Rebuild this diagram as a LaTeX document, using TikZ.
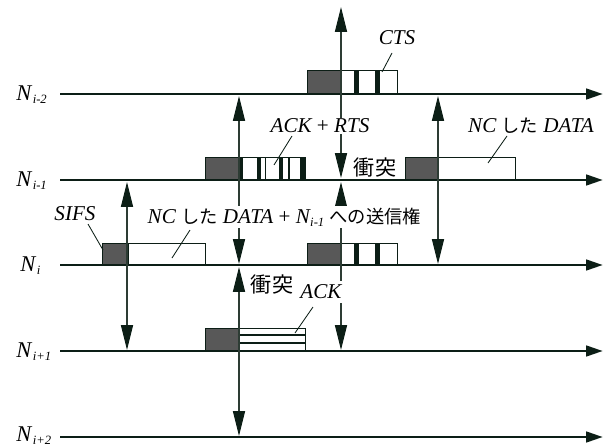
\documentclass[tikz,border=0pt]{standalone}
\usepackage{fontspec}
\setmainfont{Liberation Serif}
\newfontfamily\jp{Noto Sans CJK JP}
\usetikzlibrary{arrows.meta}
\definecolor{ink}{RGB}{12,30,22}
\definecolor{shaft}{RGB}{45,60,52}
\definecolor{blk}{RGB}{88,88,88}
\newcommand{\J}[1]{{\jp\upshape\fontsize{13}{15}\selectfont #1}}
\newcommand{\Nl}[2]{\textit{N}\kern0.3pt\raisebox{-0.3ex}{\fontsize{#2}{#2}\selectfont\textit{#1}}}
\begin{document}
\begin{tikzpicture}[x=0.025cm,y=-0.025cm,
  timeline/.style={line width=2.1pt, draw=ink, -{Triangle[length=0.42cm,width=0.26cm]}},
  rangearrow/.style={line width=0.75pt, draw=shaft, {Triangle[length=0.62cm,width=0.3cm,color=ink]}-{Triangle[length=0.62cm,width=0.3cm,color=ink]}},
  darkblk/.style={draw=ink, fill=blk, line width=0.6pt},
  whiteblk/.style={draw=ink, fill=white, line width=0.6pt},
  barblk/.style={fill=ink, draw=none},
  lbl/.style={font=\fontsize{15}{17}\selectfont\itshape, fill=white, inner sep=1pt},
  jlbl/.style={font=\fontsize{15}{17}\selectfont\jp, inner sep=1pt},
  nlbl/.style={font=\fontsize{16}{18}\selectfont, anchor=base west, inner sep=0pt},
  lead/.style={draw=ink, line width=0.6pt}]
\useasboundingbox (0,0) rectangle (607,447);

% timeline coordinates
\coordinate (s1) at (60,94);  \coordinate (e1) at (603,94);
\coordinate (s2) at (60,180); \coordinate (e2) at (603,180);
\coordinate (s3) at (60,265); \coordinate (e3) at (603,265);
\coordinate (s4) at (60,351); \coordinate (e4) at (603,351);
\coordinate (s5) at (60,437); \coordinate (e5) at (603,437);

% blocks on N_{i-2}
\draw[darkblk] (307,70) rectangle (341,94);
\draw[whiteblk] (341,70) rectangle (397,94);
\fill[barblk] (354,70) rectangle (359,94);
\fill[barblk] (375,70) rectangle (380,94);

% blocks on N_{i-1}
\draw[darkblk] (205,157) rectangle (239,180);
\draw[whiteblk] (239,157) rectangle (305,180);
\fill[barblk] (239,157) rectangle (243,180);
\fill[barblk] (257,157) rectangle (261,180);
\draw[ink, line width=0.5pt] (265,157) -- (265,180);
\fill[barblk] (279,157) rectangle (283,180);
\fill[barblk] (288,157) rectangle (290,180);
\fill[barblk] (300,157) rectangle (305,180);
\draw[darkblk] (405,157) rectangle (438,180);
\draw[whiteblk] (438,157) rectangle (515,180);

% blocks on N_i
\draw[darkblk] (102,243) rectangle (128,265);
\draw[whiteblk] (128,243) rectangle (205,265);
\draw[darkblk] (307,243) rectangle (340,265);
\draw[whiteblk] (340,243) rectangle (397,265);
\fill[barblk] (354,243) rectangle (359,265);
\fill[barblk] (375,243) rectangle (380,265);

% block on N_{i+1}
\draw[darkblk] (205,328) rectangle (239,351);
\draw[whiteblk] (239,328) rectangle (305,351);
\draw[ink, line width=1.4pt] (239,335) -- (305,335);
\draw[ink, line width=1.4pt] (239,343) -- (305,343);

% timelines
\foreach \i in {1,...,5} { \draw[timeline] (s\i) -- (e\i); }

% range arrows
\coordinate (a1t) at (341,7);   \coordinate (a1b) at (341,178);
\coordinate (a2t) at (341,182); \coordinate (a2b) at (341,350);
\coordinate (a3t) at (239,96);  \coordinate (a3b) at (239,264);
\coordinate (a4t) at (239,267); \coordinate (a4b) at (239,436);
\coordinate (a5t) at (438,96);  \coordinate (a5b) at (438,264);
\coordinate (a6t) at (127,182); \coordinate (a6b) at (127,350);
\foreach \k in {1,...,6} { \draw[rangearrow] (a\k t) -- (a\k b); }

% timeline labels
\node[nlbl] (L1) at (16,100) {\Nl{i-2}{9}};
\node[nlbl] (L2) at (16,186) {\Nl{i-1}{9}};
\node[nlbl] (L3) at (20,271) {\Nl{i}{9}};
\node[nlbl] (L4) at (16,357) {\Nl{i+1}{9}};
\node[nlbl] (L5) at (16,441) {\Nl{i+2}{9}};

% text labels
\node[lbl] (cts) at (397,38) {CTS};
\node[lbl] (ackrts) at (320,126) {ACK \upshape+\itshape\ RTS};
\node[lbl] (ncd1) at (531,126) {NC \J{した} DATA};
\node[jlbl] (col1) at (375,167) {衝突};
\node[lbl] (sifs) at (75,214) {SIFS};
\node[lbl, anchor=west] (ncd2) at (146,217) {NC \J{した} DATA \upshape+\itshape\ \Nl{i-1}{9} \J{への送信権}};
\node[jlbl] (col2) at (272,284) {衝突};
\node[lbl, inner ysep=3pt] (ack) at (321,292) {ACK};

% leader lines
\coordinate (c1a) at (392,53);  \coordinate (c1b) at (382,72);
\coordinate (c2a) at (292,136); \coordinate (c2b) at (274,165);
\coordinate (c3a) at (507,136); \coordinate (c3b) at (488,163);
\coordinate (c4a) at (88,224);  \coordinate (c4b) at (103,250);
\coordinate (c5a) at (190,230); \coordinate (c5b) at (172,258);
\coordinate (c6a) at (313,307); \coordinate (c6b) at (295,333);
\foreach \k in {1,...,6} { \draw[lead] (c\k a) -- (c\k b); }
\end{tikzpicture}
\end{document}
